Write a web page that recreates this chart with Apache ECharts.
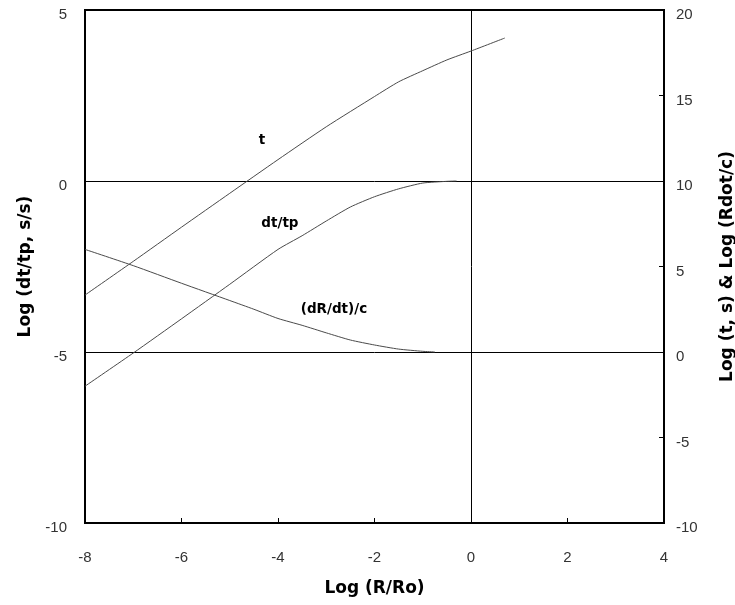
<!DOCTYPE html>
<html>
<head>
<meta charset="utf-8">
<script src="https://cdn.jsdelivr.net/npm/echarts@6/dist/echarts.min.js"></script>
<style>
html,body{margin:0;padding:0;background:#fff;}
#chart{width:735px;height:605px;}
</style>
</head>
<body>
<div id="chart"></div>
<script>
// Data
const tX      = [-8, -7, -6, -5, -4, -3, -2, -1.5, -1, -0.5, 0, 0.7];
const tY      = [3.33, 5.3, 7.3, 9.28, 11.25, 13.17, 14.94, 15.8, 16.45, 17.08, 17.6, 18.36];   // right axis
const dtX     = [-8, -7, -6, -5, -4, -3.5, -3, -2.5, -2, -1.5, -1, -0.5, -0.3];
const dtY     = [-6.0, -5.03, -4.03, -3.02, -2.0, -1.6, -1.17, -0.76, -0.46, -0.23, -0.06, -0.01, 0];  // left axis
const drX     = [-8, -7, -6, -5, -4.5, -4, -3.5, -3, -2.5, -2, -1.5, -1, -0.75];
const drY     = [6.0, 5.05, 4.02, 3.01, 2.5, 1.96, 1.56, 1.12, 0.7, 0.41, 0.17, 0.04, 0];       // right axis
const labelT  = {name: 't', coord: [-4.33, 12.34]};
const labelDt = {name: 'dt/tp', coord: [-3.96, -1.23]};
const labelDr = {name: '(dR/dt)/c', coord: [-2.84, 2.46]};

const zip = (xs, ys) => xs.map((x, i) => [x, ys[i]]);

const tickFont = {fontFamily: 'Liberation Sans', fontSize: 15, color: '#333'};
const titleFont = {fontFamily: 'DejaVu Sans', fontWeight: 'bold', fontSize: 17, color: '#000'};
const curveStyle = {color: '#4a4a4a', width: 1};
const annLabel = {show: true, position: 'inside', formatter: '{b}', fontFamily: 'DejaVu Sans', fontWeight: 'bold', fontSize: 13.5, color: '#000'};
const refLine = {show: true, lineStyle: {color: '#000', width: 1, type: 'solid'}};
const frameLine = {show: true, onZero: false, lineStyle: {color: '#000', width: 2}};

const chart = echarts.init(document.getElementById('chart'), null, {renderer: 'canvas'});
chart.setOption({
  backgroundColor: '#fff',
  animation: false,
  grid: {left: 85, right: 71, top: 10, bottom: 82, show: true, borderColor: '#000', borderWidth: 2,
         containLabel: false, outerBoundsMode: 'none'},
  xAxis: [{
    type: 'value', min: -8, max: 4, interval: 2, position: 'bottom',
    axisLine: frameLine,
    axisTick: {show: true, inside: true, length: 5, lineStyle: {color: '#000'}},
    splitLine: {show: false},
    axisLabel: Object.assign({margin: 27, showMinLabel: true, showMaxLabel: true}, tickFont),
    name: 'Log (R/Ro)', nameLocation: 'middle', nameGap: 57, nameTextStyle: titleFont
  }, {
    // helper axis: vertical reference line at x = 0
    type: 'value', min: -8, max: 4, interval: 8, position: 'bottom',
    axisLine: {show: false, onZero: false}, axisTick: {show: false}, axisLabel: {show: false},
    splitLine: refLine
  }],
  yAxis: [{
    type: 'value', min: -10, max: 5, interval: 5, position: 'left',
    axisLine: frameLine,
    axisTick: {show: true, inside: true, length: 5, lineStyle: {color: '#000'}},
    splitLine: refLine,
    axisLabel: Object.assign({margin: 18, verticalAlign: 'top', lineHeight: 10, showMinLabel: true, showMaxLabel: true}, tickFont),
    name: 'Log (dt/tp, s/s)', nameLocation: 'middle', nameRotate: 90, nameGap: 48, nameTextStyle: titleFont
  }, {
    type: 'value', min: -10, max: 20, interval: 5, position: 'right',
    axisLine: frameLine,
    axisTick: {show: true, inside: true, length: 5, lineStyle: {color: '#000'}},
    splitLine: {show: false},
    axisLabel: Object.assign({margin: 12, verticalAlign: 'top', lineHeight: 10, showMinLabel: true, showMaxLabel: true}, tickFont),
    name: 'Log (t, s) & Log (Rdot/c)', nameLocation: 'middle', nameRotate: 90, nameGap: 55, nameTextStyle: titleFont
  }],
  series: [{
    name: 't', type: 'line', yAxisIndex: 1, data: zip(tX, tY),
    showSymbol: false, smooth: 0.2, lineStyle: curveStyle,
    markPoint: {symbol: 'circle', symbolSize: 0, label: annLabel, data: [labelT]}
  }, {
    name: 'dt/tp', type: 'line', yAxisIndex: 0, data: zip(dtX, dtY),
    showSymbol: false, smooth: 0.2, lineStyle: curveStyle,
    markPoint: {symbol: 'circle', symbolSize: 0, label: annLabel, data: [labelDt]}
  }, {
    name: '(dR/dt)/c', type: 'line', yAxisIndex: 1, data: zip(drX, drY),
    showSymbol: false, smooth: 0.2, lineStyle: curveStyle,
    markPoint: {symbol: 'circle', symbolSize: 0, label: annLabel, data: [labelDr]}
  }]
});
</script>
</body>
</html>
